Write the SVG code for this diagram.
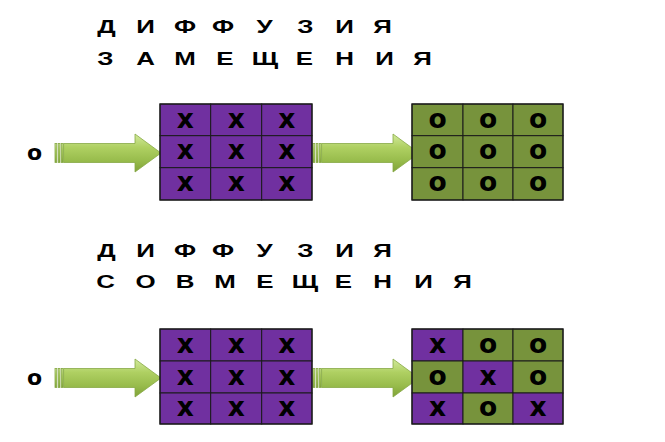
<svg xmlns="http://www.w3.org/2000/svg" width="665" height="442" viewBox="0 0 665 442">
<style>
.hd{font-family:"Liberation Sans",Arial,sans-serif;font-weight:bold;font-size:18.5px;fill:#000;text-anchor:middle}
.cl{font-family:"DejaVu Sans",Verdana,sans-serif;font-weight:bold;font-size:26.5px;fill:#000;text-anchor:middle}
.p{fill:#7030A0;stroke:#1a1a1a;stroke-width:1}
.g{fill:#77933C;stroke:#1a1a1a;stroke-width:1}
.frame{fill:none;stroke:#1a1a1a;stroke-width:1.2}
.ar{fill:url(#ag);stroke:#86a845;stroke-width:0.8}
</style>
<defs>
<linearGradient id="ag" x1="0" y1="0" x2="0" y2="1">
<stop offset="0" stop-color="#d2ea9c"/>
<stop offset="0.35" stop-color="#afd062"/>
<stop offset="0.7" stop-color="#98bc4c"/>
<stop offset="1" stop-color="#80a238"/>
</linearGradient>
<g id="arrow">
<rect x="55" y="143.5" width="1.8" height="19" class="ar"/>
<rect x="58.2" y="143.5" width="1.8" height="19" class="ar"/>
<rect x="61.3" y="143.5" width="1.8" height="19" class="ar"/>
<path class="ar" d="M63.6,143.5 H135 V134 L161,153 L135,172 V162.5 H63.6 Z"/>
</g>
</defs>
<rect width="665" height="442" fill="#fff"/>

<g id="titles" transform="scale(1.4,1)">
<text class="hd" x="76.07 90 103.93 117.86 132.14 145.71 159.29 174.29 188.93 203.57 218.21 232.14 246.07 260 273.21" y="33">Д И Ф Ф У З И Я</text>
<text class="hd" x="75.36 89.29 103.93 117.86 132.14 146.43 160.71 175 189.29 203.57 217.5 232.14 246.07 260 274.64 288.57 301.79" y="65">З А М Е Щ Е Н И Я</text>
<text class="hd" x="76.07 90 103.93 117.86 132.14 145.71 159.29 174.29 188.93 203.57 218.21 232.14 246.07 260 273.21" y="257">Д И Ф Ф У З И Я</text>
<text class="hd" x="75.36 89.29 103.93 117.86 132.14 146.43 160.71 175 189.29 203.57 217.86 231.43 245.36 259.29 273.21 287.86 302.5 316.43 330.36" y="288">С О В М Е Щ Е Н И Я</text>
</g>

<g id="input1"><text class="cl" x="34.5" y="159.5" style="font-size:22px">o</text></g>
<g id="input2"><text class="cl" x="34.5" y="384.5" style="font-size:22px">o</text></g>

<g id="connectors">
<use href="#arrow"/>
<use href="#arrow" transform="translate(258,0)"/>
<use href="#arrow" transform="translate(0,225)"/>
<use href="#arrow" transform="translate(258,225)"/>
</g>

<g id="grid1">
<rect class="p" x="160" y="104" width="50.7" height="31.7"/>
<rect class="p" x="210.7" y="104" width="51" height="31.7"/>
<rect class="p" x="261.7" y="104" width="50.3" height="31.7"/>
<rect class="p" x="160" y="135.7" width="50.7" height="32"/>
<rect class="p" x="210.7" y="135.7" width="51" height="32"/>
<rect class="p" x="261.7" y="135.7" width="50.3" height="32"/>
<rect class="p" x="160" y="167.7" width="50.7" height="32.3"/>
<rect class="p" x="210.7" y="167.7" width="51" height="32.3"/>
<rect class="p" x="261.7" y="167.7" width="50.3" height="32.3"/>
<rect class="frame" x="160" y="104" width="152" height="96"/>
<text class="cl" x="185.3" y="127.5">x</text><text class="cl" x="236.2" y="127.5">x</text><text class="cl" x="286.8" y="127.5">x</text>
<text class="cl" x="185.3" y="159">x</text><text class="cl" x="236.2" y="159">x</text><text class="cl" x="286.8" y="159">x</text>
<text class="cl" x="185.3" y="191">x</text><text class="cl" x="236.2" y="191">x</text><text class="cl" x="286.8" y="191">x</text>
</g>

<g id="grid2">
<rect class="g" x="412" y="104" width="51" height="31.7"/>
<rect class="g" x="463" y="104" width="50" height="31.7"/>
<rect class="g" x="513" y="104" width="50" height="31.7"/>
<rect class="g" x="412" y="135.7" width="51" height="32"/>
<rect class="g" x="463" y="135.7" width="50" height="32"/>
<rect class="g" x="513" y="135.7" width="50" height="32"/>
<rect class="g" x="412" y="167.7" width="51" height="32.3"/>
<rect class="g" x="463" y="167.7" width="50" height="32.3"/>
<rect class="g" x="513" y="167.7" width="50" height="32.3"/>
<rect class="frame" x="412" y="104" width="151" height="96"/>
<text class="cl" x="437.5" y="127.5">o</text><text class="cl" x="488" y="127.5">o</text><text class="cl" x="538" y="127.5">o</text>
<text class="cl" x="437.5" y="159">o</text><text class="cl" x="488" y="159">o</text><text class="cl" x="538" y="159">o</text>
<text class="cl" x="437.5" y="191">o</text><text class="cl" x="488" y="191">o</text><text class="cl" x="538" y="191">o</text>
</g>

<g id="grid3">
<rect class="p" x="160" y="329" width="50.7" height="32"/>
<rect class="p" x="210.7" y="329" width="51" height="32"/>
<rect class="p" x="261.7" y="329" width="50.3" height="32"/>
<rect class="p" x="160" y="361" width="50.7" height="32"/>
<rect class="p" x="210.7" y="361" width="51" height="32"/>
<rect class="p" x="261.7" y="361" width="50.3" height="32"/>
<rect class="p" x="160" y="393" width="50.7" height="31"/>
<rect class="p" x="210.7" y="393" width="51" height="31"/>
<rect class="p" x="261.7" y="393" width="50.3" height="31"/>
<rect class="frame" x="160" y="329" width="152" height="95"/>
<text class="cl" x="185.3" y="352.5">x</text><text class="cl" x="236.2" y="352.5">x</text><text class="cl" x="286.8" y="352.5">x</text>
<text class="cl" x="185.3" y="384.5">x</text><text class="cl" x="236.2" y="384.5">x</text><text class="cl" x="286.8" y="384.5">x</text>
<text class="cl" x="185.3" y="416">x</text><text class="cl" x="236.2" y="416">x</text><text class="cl" x="286.8" y="416">x</text>
</g>

<g id="grid4">
<rect class="p" x="412" y="329" width="51" height="32"/>
<rect class="g" x="463" y="329" width="50" height="32"/>
<rect class="g" x="513" y="329" width="50" height="32"/>
<rect class="g" x="412" y="361" width="51" height="32"/>
<rect class="p" x="463" y="361" width="50" height="32"/>
<rect class="g" x="513" y="361" width="50" height="32"/>
<rect class="p" x="412" y="393" width="51" height="31"/>
<rect class="g" x="463" y="393" width="50" height="31"/>
<rect class="p" x="513" y="393" width="50" height="31"/>
<rect class="frame" x="412" y="329" width="151" height="95"/>
<text class="cl" x="437.5" y="352.5">x</text><text class="cl" x="488" y="352.5">o</text><text class="cl" x="538" y="352.5">o</text>
<text class="cl" x="437.5" y="384.5">o</text><text class="cl" x="488" y="384.5">x</text><text class="cl" x="538" y="384.5">o</text>
<text class="cl" x="437.5" y="416">x</text><text class="cl" x="488" y="416">o</text><text class="cl" x="538" y="416">x</text>
</g>
</svg>
